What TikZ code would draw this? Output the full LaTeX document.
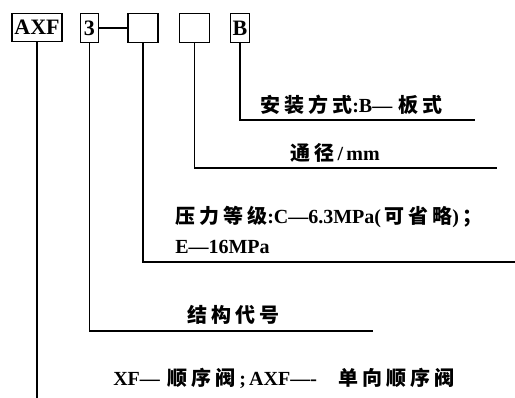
\documentclass[tikz,border=0pt]{standalone}
\usepackage{fontspec}
\setmainfont{Liberation Serif}
\newfontfamily\cjk[LetterSpace=20]{Noto Sans CJK SC}
\usetikzlibrary{positioning}

\tikzset{
  codebox/.style={draw, line width=0.9pt, inner sep=0pt, minimum height=21.5pt,
    font=\bfseries\fontsize{16.5}{16.5}\selectfont},
  lbl/.style={anchor=west, inner sep=0pt, font=\bfseries\fontsize{15}{16}\selectfont},
  lead/.style={line width=0.9pt}
}

\begin{document}
\begin{tikzpicture}[x=0.75pt, y=-0.75pt]
\useasboundingbox (0,0) rectangle (515,398);

% code boxes
\node[codebox, minimum width=37.5pt] (bAXF) at (37,27.5) {AXF};
\node[codebox, minimum width=14pt] (b3) at (89.5,28) {3};
\node[codebox, minimum width=22.5pt] (bP) at (143,28) {};
\node[codebox, minimum width=23pt] (bD) at (194.5,28) {};
\node[codebox, minimum width=14pt] (bB) at (240,28) {B};
\draw[lead] (b3) -- (bP);

% end points of the leader lines
\coordinate (eB) at (475,120);
\coordinate (eD) at (497,168);
\coordinate (eP) at (515,262);
\coordinate (e3) at (373,331);
\coordinate (eAXF) at (37,398);

% leader lines
\draw[lead] (bB.south) |- (eB);
\draw[lead] (bD.south) |- (eD);
\draw[lead] (bP.south) |- (eP);
\draw[lead] (b3.south) |- (e3);
\draw[lead] (bAXF.south) -- (eAXF);

% labels
\node[lbl] (tB) at (260,105) {{\cjk 安装方式}:B—\hspace{5pt}{\cjk 板式}};
\node[lbl] (tD) at (290,153) {{\cjk 通径}\,/\,mm};
\node[lbl] (tP1) at (175,217) {{\cjk 压力等级}:C—6.3MPa(\,{\cjk 可省略})\,{\cjk ；}};
\node[lbl] (tP2) at (175,247) {E—16MPa};
\node[lbl] (t3) at (187,315) {\cjk 结构代号};
\node[lbl] (tAXF) at (113,378) {XF—\hspace{6pt}{\cjk 顺序阀}\,;\,AXF—-\hspace{16pt}{\cjk 单向顺序阀}};

\end{tikzpicture}
\end{document}
